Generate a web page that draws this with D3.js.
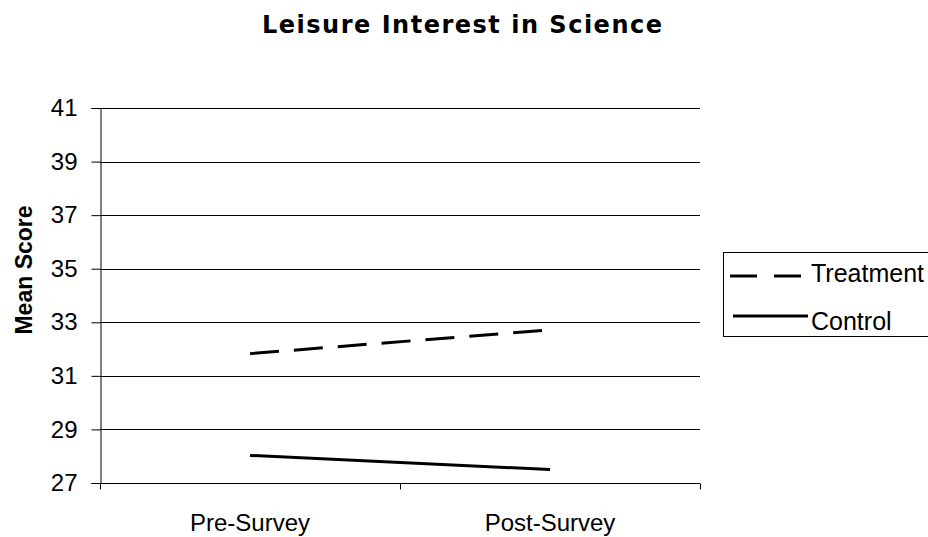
<!DOCTYPE html>
<html>
<head>
<meta charset="utf-8">
<script src="https://cdn.jsdelivr.net/npm/d3@7"></script>
<style>
  body { margin: 0; background: #fff; }
  text { font-family: "Liberation Sans", Arial, sans-serif; }
</style>
</head>
<body>
<div id="chart"></div>
<script>
// data
var categories = ["Pre-Survey", "Post-Survey"];
var treatment = [31.83, 32.72];
var control = [28.03, 27.5];
var seriesNames = ["Treatment", "Control"];
var yTicks = [27, 29, 31, 33, 35, 37, 39, 41];

var width = 928, height = 537;
var plot = {left: 100, right: 700, top: 108, bottom: 483};

var svg = d3.select("#chart").append("svg")
  .attr("width", width)
  .attr("height", height);

var x = d3.scaleBand()
  .domain(categories)
  .range([plot.left, plot.right]);

var y = d3.scaleLinear()
  .domain([27, 41])
  .range([plot.bottom, plot.top]);

// gridlines
svg.append("g")
  .selectAll("line")
  .data(yTicks)
  .enter().append("line")
    .attr("x1", plot.left)
    .attr("x2", plot.right)
    .attr("y1", d => Math.round(y(d)) + 0.5)
    .attr("y2", d => Math.round(y(d)) + 0.5)
    .attr("stroke", "#000")
    .attr("stroke-width", 1);

// y axis
var yAxis = svg.append("g")
  .attr("transform", "translate(" + (plot.left + 0.5) + ",0)")
  .call(d3.axisLeft(y).tickValues(yTicks).tickSize(9).tickPadding(14).tickFormat(d3.format("d")));
yAxis.select(".domain").attr("stroke", "#000");
yAxis.selectAll(".tick line").attr("stroke", "#000");
yAxis.selectAll(".tick text")
  .attr("font-size", "24px")
  .attr("fill", "#000")
  .style("font-family", "'Liberation Sans', Arial, sans-serif");

// x axis with ticks at band edges
var xAxis = svg.append("g")
  .attr("transform", "translate(0," + (plot.bottom + 0.5) + ")");
xAxis.append("line")
  .attr("x1", plot.left).attr("x2", plot.right)
  .attr("stroke", "#000");
var edges = [plot.left, plot.left + x.bandwidth(), plot.right];
xAxis.selectAll(".edge")
  .data(edges)
  .enter().append("line")
    .attr("class", "edge")
    .attr("x1", d => d + 0.5).attr("x2", d => d + 0.5)
    .attr("y1", 0).attr("y2", 6)
    .attr("stroke", "#000");
xAxis.selectAll(".lbl")
  .data(categories)
  .enter().append("text")
    .attr("class", "lbl")
    .attr("x", d => x(d) + x.bandwidth() / 2)
    .attr("y", 47)
    .attr("text-anchor", "middle")
    .attr("font-size", "24px")
    .attr("fill", "#000")
    .text(d => d);

// lines
var line = d3.line()
  .x((d, i) => x(categories[i]) + x.bandwidth() / 2)
  .y(d => y(d));

svg.append("path")
  .datum(treatment)
  .attr("d", line)
  .attr("fill", "none")
  .attr("stroke", "#000")
  .attr("stroke-width", 3)
  .attr("stroke-dasharray", "29,15");

svg.append("path")
  .datum(control)
  .attr("d", line)
  .attr("fill", "none")
  .attr("stroke", "#000")
  .attr("stroke-width", 3);

// title
svg.append("text")
  .attr("x", 462)
  .attr("y", 33)
  .attr("text-anchor", "middle")
  .attr("font-size", "24px")
  .attr("font-weight", "bold")
  .attr("textLength", 400)
  .attr("lengthAdjust", "spacing")
  .attr("fill", "#000")
  .style("font-family", "'DejaVu Sans', sans-serif")
  .text("Leisure Interest in Science");

// y label
svg.append("text")
  .attr("transform", "translate(32,270) rotate(-90)")
  .attr("text-anchor", "middle")
  .attr("font-size", "23px")
  .attr("font-weight", "bold")
  .attr("fill", "#000")
  .text("Mean Score");

// legend
var legend = svg.append("g");
legend.append("rect")
  .attr("x", 723.5).attr("y", 252.5)
  .attr("width", 230).attr("height", 84)
  .attr("fill", "none")
  .attr("stroke", "#000");

var legendItems = legend.selectAll(".item")
  .data(seriesNames)
  .enter().append("g")
    .attr("class", "item")
    .attr("transform", (d, i) => "translate(0," + (276 + i * 40) + ")");
legendItems.append("line")
  .attr("x1", (d, i) => i == 0 ? 730 : 733)
  .attr("x2", (d, i) => i == 0 ? 801 : 808)
  .attr("y1", 0).attr("y2", 0)
  .attr("stroke", "#000")
  .attr("stroke-width", 3)
  .attr("stroke-dasharray", (d, i) => i == 0 ? "27,17" : null);
legendItems.append("text")
  .attr("x", 811)
  .attr("y", (d, i) => i == 0 ? 6 : 14)
  .attr("font-size", "25px")
  .attr("fill", "#000")
  .text(d => d);
</script>
</body>
</html>
